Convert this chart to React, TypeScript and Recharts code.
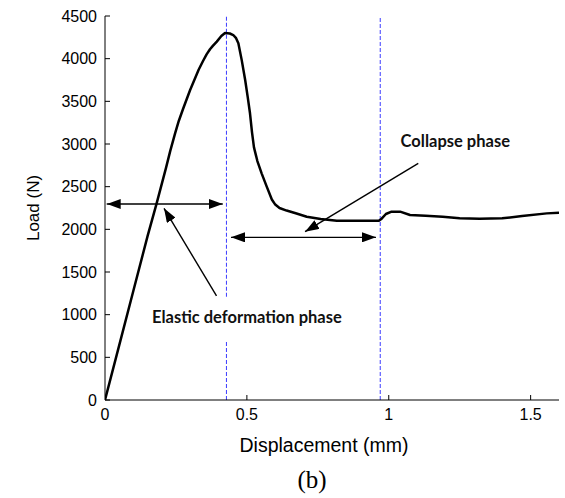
import React from 'react';
import { LineChart, Line, XAxis, YAxis, ReferenceLine, ReferenceDot, Label } from 'recharts';

// load-displacement curve
const displacement = [
  0, 0.05, 0.1, 0.15, 0.182, 0.215, 0.23, 0.247, 0.26, 0.275, 0.3, 0.33, 0.345, 0.358, 0.37, 0.38,
  0.394, 0.41, 0.423, 0.44, 0.452, 0.462, 0.47, 0.482, 0.494, 0.503, 0.511, 0.518, 0.525, 0.537,
  0.552, 0.57, 0.588, 0.6, 0.615, 0.64, 0.675, 0.711, 0.76, 0.817, 0.9, 0.965, 0.975, 0.99, 1.01,
  1.04, 1.075, 1.13, 1.19, 1.25, 1.32, 1.4, 1.47, 1.557, 1.6,
];
const load = [
  0, 640, 1280, 1920, 2305, 2720, 2920, 3125, 3270, 3410, 3633, 3870, 3970, 4050, 4110, 4150,
  4200, 4265, 4300, 4295, 4277, 4240, 4180, 3980, 3750, 3550, 3360, 3140, 2960, 2800,
  2656, 2500, 2350, 2290, 2250, 2220, 2185, 2148, 2120, 2101, 2100, 2100, 2125, 2180, 2207,
  2207, 2168, 2160, 2148, 2129, 2125, 2129, 2156, 2187, 2195,
];

const xTicks = [0, 0.5, 1, 1.5];
const yTicks = [0, 500, 1000, 1500, 2000, 2500, 3000, 3500, 4000, 4500];

// phase boundaries (blue dashed lines)
const phaseBounds = [0.428, 0.97];
// gap in the first boundary line behind the elastic label
const labelGap = [703, 1210];

// double arrows: [y, xFrom, xTo]
const elasticSpan = [2297, 0.006, 0.415];
const collapseSpan = [1906, 0.444, 0.955];

// pointer arrows: [xFrom, yFrom, xTip, yTip]
const elasticPointer = [0.393, 1219, 0.208, 2246];
const collapsePointer = [1.104, 2774, 0.705, 1972];

// annotation texts
const elasticText = { label: 'Elastic deformation phase', x: 0.5, y: 973 };
const collapseText = { label: 'Collapse phase', x: 1.2345, y: 3027 };

const tickFont = { fontFamily: '"Liberation Sans", Arial, sans-serif', fontSize: 16, fill: '#000' };
const dashColor = '#3c3cff';

function XTick(props: any) {
  const { x, y, payload } = props;
  const axisY = y - 7;
  return (
    <g>
      {payload.value !== 0 && <line x1={x} x2={x} y1={axisY} y2={axisY - 5} stroke="#000" />}
      <text x={x} y={y} dy="0.8em" textAnchor="middle" {...tickFont}>
        {payload.value}
      </text>
    </g>
  );
}

function YTick(props: any) {
  const { x, y, payload } = props;
  const axisX = x + 8;
  return (
    <g>
      <line x1={axisX} x2={axisX + 5} y1={y} y2={y} stroke="#000" />
      <text x={x} y={y} dy="0.36em" textAnchor="end" {...tickFont}>
        {payload.value}
      </text>
    </g>
  );
}

function AnnText(props: any) {
  const { viewBox, value } = props;
  return (
    <text
      x={viewBox.x + viewBox.width / 2}
      y={viewBox.y + viewBox.height / 2}
      dy="0.35em"
      textAnchor="middle"
      fontFamily="Lato, sans-serif"
      fontWeight={700}
      fontSize={16.5}
      fill="#111"
    >
      {value}
    </text>
  );
}

export default function App() {
  const data = displacement.map((x, i) => ({ x, load: load[i] }));

  return (
    <div style={{ position: 'absolute', left: 0, top: 0, width: 565, height: 498, background: '#fff' }}>
      <LineChart width={565} height={498} data={data} margin={{ top: 16, right: 6, bottom: 38, left: 20 }}>
        <defs>
          <marker
            id="arrowHead"
            viewBox="0 0 14 10"
            refX="14"
            refY="5"
            markerWidth="14"
            markerHeight="10"
            markerUnits="userSpaceOnUse"
            orient="auto-start-reverse"
          >
            <path d="M0,0 L14,5 L0,10 z" fill="#000" />
          </marker>
        </defs>
        <XAxis
          dataKey="x"
          type="number"
          domain={[0, 1.6]}
          ticks={xTicks}
          tickSize={0}
          tickMargin={7}
          tick={<XTick />}
          stroke="#000"
          height={60}
          allowDataOverflow
        >
          <Label
            content={(p: any) => {
              const cx = p.viewBox.x + p.viewBox.width / 2;
              return (
                <g>
                  <text x={cx - 8} y={p.viewBox.y + 45} dy="0.35em" textAnchor="middle"
                    fontFamily='"Liberation Sans", Arial, sans-serif' fontSize={19.5} fill="#000">
                    Displacement (mm)
                  </text>
                  <text x={cx - 20} y={p.viewBox.y + 79} dy="0.35em" textAnchor="middle"
                    fontFamily='"Liberation Serif", "Times New Roman", serif' fontSize={25} fill="#000">
                    (b)
                  </text>
                </g>
              );
            }}
          />
        </XAxis>
        <YAxis
          type="number"
          domain={[0, 4500]}
          ticks={yTicks}
          tickSize={0}
          tickMargin={8}
          tick={<YTick />}
          stroke="#000"
          width={85}
          interval={0}
        >
          <Label
            content={(p: any) => {
              const lx = p.viewBox.x + 13;
              const ly = p.viewBox.y + p.viewBox.height / 2;
              return (
                <text x={lx} y={ly} dy="0.35em" textAnchor="middle" transform={`rotate(-90 ${lx} ${ly})`}
                  fontFamily='"Liberation Sans", Arial, sans-serif' fontSize={17} fill="#000">
                  Load (N)
                </text>
              );
            }}
          />
        </YAxis>

        <ReferenceLine segment={[{ x: phaseBounds[0], y: 0 }, { x: phaseBounds[0], y: labelGap[0] }]}
          stroke={dashColor} strokeDasharray="4 2" />
        <ReferenceLine segment={[{ x: phaseBounds[0], y: labelGap[1] }, { x: phaseBounds[0], y: 4500 }]}
          stroke={dashColor} strokeDasharray="4 2" />
        <ReferenceLine segment={[{ x: phaseBounds[1], y: 0 }, { x: phaseBounds[1], y: 4500 }]}
          stroke={dashColor} strokeDasharray="4 2" />

        <Line
          dataKey="load"
          type="linear"
          stroke="#000"
          strokeWidth={2.5}
          strokeLinejoin="round"
          dot={false}
          isAnimationActive={false}
        />

        <ReferenceLine
          segment={[{ x: elasticSpan[1], y: elasticSpan[0] }, { x: elasticSpan[2], y: elasticSpan[0] }]}
          stroke="#000" strokeWidth={1.4} markerStart="url(#arrowHead)" markerEnd="url(#arrowHead)" />
        <ReferenceLine
          segment={[{ x: collapseSpan[1], y: collapseSpan[0] }, { x: collapseSpan[2], y: collapseSpan[0] }]}
          stroke="#000" strokeWidth={1.4} markerStart="url(#arrowHead)" markerEnd="url(#arrowHead)" />
        <ReferenceLine
          segment={[{ x: elasticPointer[0], y: elasticPointer[1] }, { x: elasticPointer[2], y: elasticPointer[3] }]}
          stroke="#000" strokeWidth={1.4} markerEnd="url(#arrowHead)" />
        <ReferenceLine
          segment={[{ x: collapsePointer[0], y: collapsePointer[1] }, { x: collapsePointer[2], y: collapsePointer[3] }]}
          stroke="#000" strokeWidth={1.4} markerEnd="url(#arrowHead)" />

        <ReferenceDot x={elasticText.x} y={elasticText.y} r={0} fill="none" stroke="none">
          <Label value={elasticText.label} content={<AnnText />} />
        </ReferenceDot>
        <ReferenceDot x={collapseText.x} y={collapseText.y} r={0} fill="none" stroke="none">
          <Label value={collapseText.label} content={<AnnText />} />
        </ReferenceDot>
      </LineChart>
    </div>
  );
}
